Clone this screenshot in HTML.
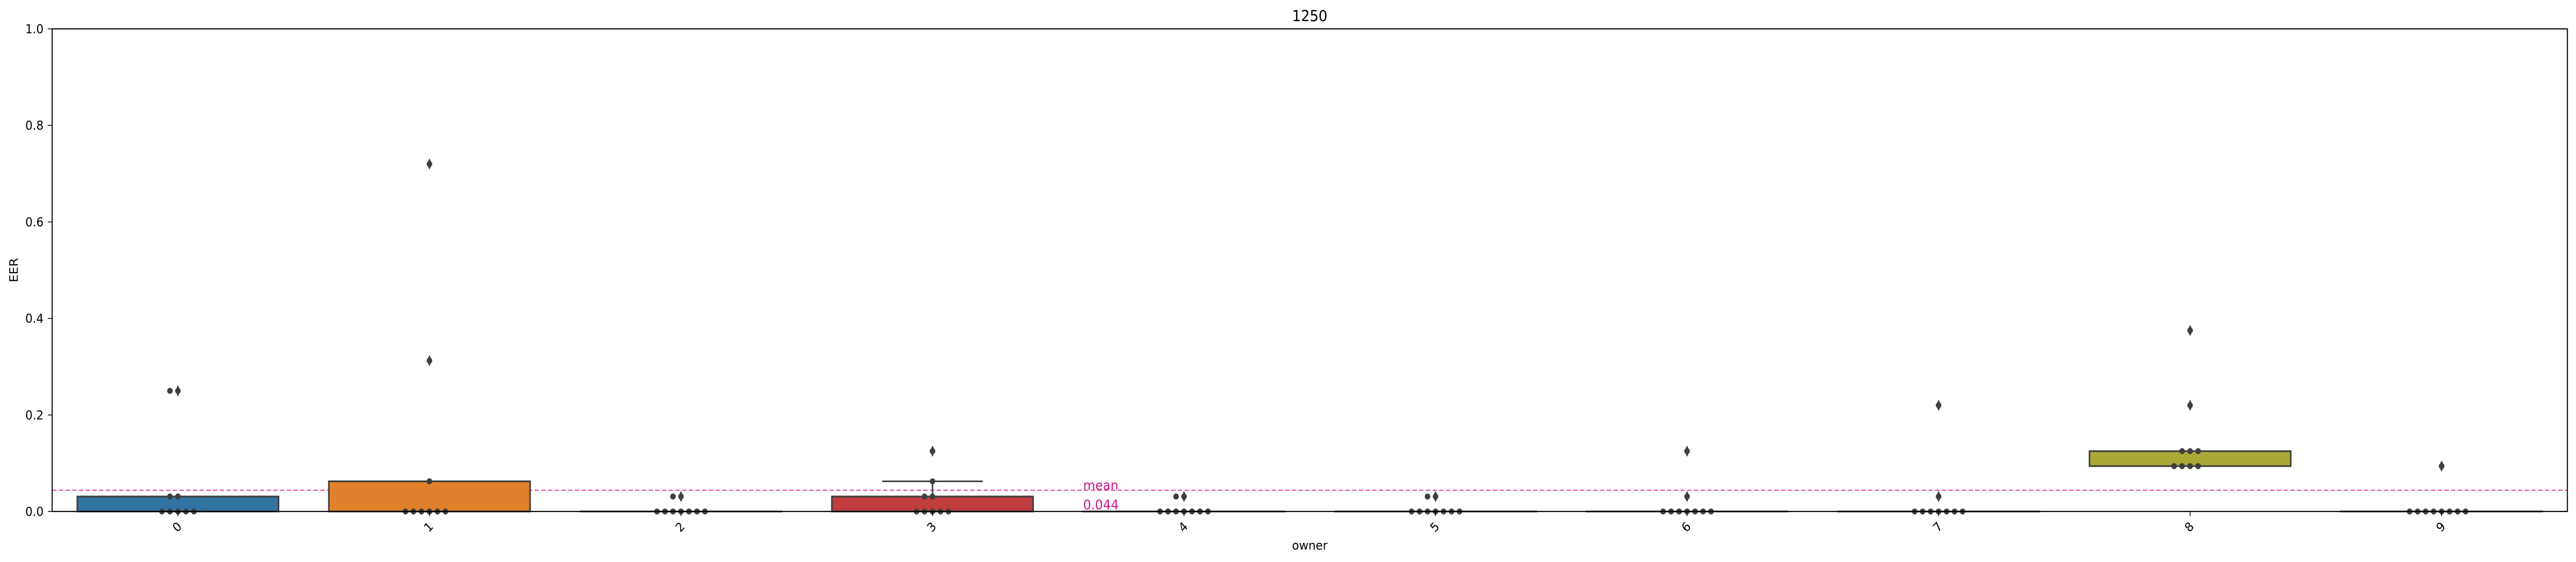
<!DOCTYPE html>
<html><head><meta charset="utf-8">
<style>
html,body{margin:0;padding:0;background:#fff;width:100%;height:100%;overflow:hidden;}
svg{display:block;width:100vw;height:100vh;font-family:"DejaVu Sans","Liberation Sans",sans-serif;}
</style></head>
<body>
<svg id="chart" viewBox="0 0 5382 1090" preserveAspectRatio="none" xmlns="http://www.w3.org/2000/svg">
<rect x="0" y="0" width="5382" height="1090" fill="#fff"/>
<g id="marks"></g>
</svg>
<script>
const categories = ["0","1","2","3","4","5","6","7","8","9"];
const boxQ1 = [0,0,0,0,0,0,0,0,0.094,0];
const boxQ3 = [0.031,0.0625,0,0.031,0,0,0,0,0.125,0];
const whiskerHigh = [0.031,0.0625,0,0.0625,0,0,0,0,0.125,0];
const fliers = [[0.25],[0.3125,0.72],[0.031],[0.125],[0.031],[0.031],[0.031,0.125],[0.031,0.22],[0.22,0.375],[0.094]];
const swarmValues = [
  [0,0,0,0,0,0.031,0.031,0.25,0.25],
  [0,0,0,0,0,0,0.0625,0.3125,0.72],
  [0,0,0,0,0,0,0,0.031,0.031],
  [0,0,0,0,0,0.031,0.031,0.0625,0.125],
  [0,0,0,0,0,0,0,0.031,0.031],
  [0,0,0,0,0,0,0,0.031,0.031],
  [0,0,0,0,0,0,0,0.031,0.125],
  [0,0,0,0,0,0,0,0.031,0.22],
  [0.094,0.094,0.094,0.094,0.125,0.125,0.125,0.22,0.375],
  [0,0,0,0,0,0,0,0,0.094]
];
const boxColors = ["#3274a1","#e1812c","#3a923a","#c03d3e","#9372b2","#845b53","#d684bd","#7f7f7f","#a9aa35","#2ea8b6"];
const yTicks = [0,0.2,0.4,0.6,0.8,1.0];
const yTickLabels = ["0.0","0.2","0.4","0.6","0.8","1.0"];
const meanValue = 0.044;
const meanLabel = "0.044";

const NS = "http://www.w3.org/2000/svg";
const L = 109, R = 5364, T = 56, B = 992;
const band = (R - L) / categories.length;
const xPos = i => L + band * (i + 0.5);
const yPos = v => B - (v - 0) / (1 - 0) * (B - T);
const g = document.getElementById('marks');
function mk(tag, attrs, parent) {
  const e = document.createElementNS(NS, tag);
  for (const k in attrs) e.setAttribute(k, attrs[k]);
  (parent || g).appendChild(e);
  return e;
}
const EDGE = "#3f3f3f";
const boxW = band * 0.8;

const ml = mk('line', {x1:L, x2:R, y1:yPos(meanValue), y2:yPos(meanValue), stroke:"#e060b0", 'stroke-width':2.5, 'stroke-dasharray':"9,5"});



categories.forEach((c, i) => {
  const cx = xPos(i);
  const grp = mk('g', {});
  
  
  if (whiskerHigh[i] > boxQ3[i]) {
    mk('line', {x1:cx, x2:cx, y1:yPos(boxQ3[i]), y2:yPos(whiskerHigh[i]), stroke:EDGE, 'stroke-width':3}, grp);
    mk('line', {x1:cx - boxW/4, x2:cx + boxW/4, y1:yPos(whiskerHigh[i]), y2:yPos(whiskerHigh[i]), stroke:EDGE, 'stroke-width':3}, grp);
  }
  const y1 = yPos(boxQ3[i]), y0 = yPos(boxQ1[i]);
  mk('rect', {x:cx - boxW/2, y:y1, width:boxW, height:Math.max(y0 - y1, 0.01), fill:boxColors[i], stroke:EDGE, 'stroke-width':3.3}, grp);
  fliers[i].forEach(v => {
    const fy = yPos(v);
    const d = mk('path', {d:`M${cx},${fy-11} L${cx+5.5},${fy} L${cx},${fy+11} L${cx-5.5},${fy} Z`, fill:EDGE}, grp);
    
    
  });
  const groups = {};
  swarmValues[i].forEach(v => { (groups[v] = groups[v] || []).push(v); });
  Object.keys(groups).forEach(k => {
    const n = groups[k].length;
    for (let j = 0; j < n; j++) {
      const m = Math.ceil(j / 2);
      const off = j === 0 ? 0 : (j % 2 === 1 ? -m : m);
      const p = mk('circle', {cx:cx + off * 16.7, cy:yPos(+k), r:5.8, fill:EDGE}, grp);
      
      
    }
  });
  mk('line', {x1:cx, x2:cx, y1:B, y2:B + 9, stroke:"#000", 'stroke-width':1.6});
  const t = mk('text', {x:0, y:0, 'font-size':24, 'text-anchor':'middle', transform:`translate(${cx + 4},${B + 36}) rotate(-45)`, fill:"#000"});
  t.textContent = c;
  
  
});

yTicks.forEach((v, i) => {
  const y = yPos(v);
  mk('line', {x1:L - 9, x2:L, y1:y, y2:y, stroke:"#000", 'stroke-width':1.6});
  const t = mk('text', {x:L - 18, y:y + 8.5, 'font-size':24, 'text-anchor':'end', fill:"#000"});
  t.textContent = yTickLabels[i];
  
  
});

const fr = mk('rect', {x:L, y:T, width:R - L, height:B - T, fill:"none", stroke:"#000", 'stroke-width':2.2});



const mt1 = mk('text', {x:2263, y:950, 'font-size':26, fill:"#c71585"});
mt1.textContent = "mean";


const mt2 = mk('text', {x:2263, y:988, 'font-size':26, fill:"#c71585"});
mt2.textContent = meanLabel;



const ti = mk('text', {x:(L + R) / 2, y:41, 'font-size':29, 'text-anchor':'middle', fill:"#000"});
ti.textContent = "1250";


const xl = mk('text', {x:(L + R) / 2, y:1066, 'font-size':24, 'text-anchor':'middle', fill:"#000"});
xl.textContent = "owner";


const yl = mk('text', {x:0, y:0, 'font-size':24, 'text-anchor':'middle', transform:`translate(37,${(T + B) / 2}) rotate(-90)`, fill:"#000"});
yl.textContent = "EER";


</script>
</body></html>
